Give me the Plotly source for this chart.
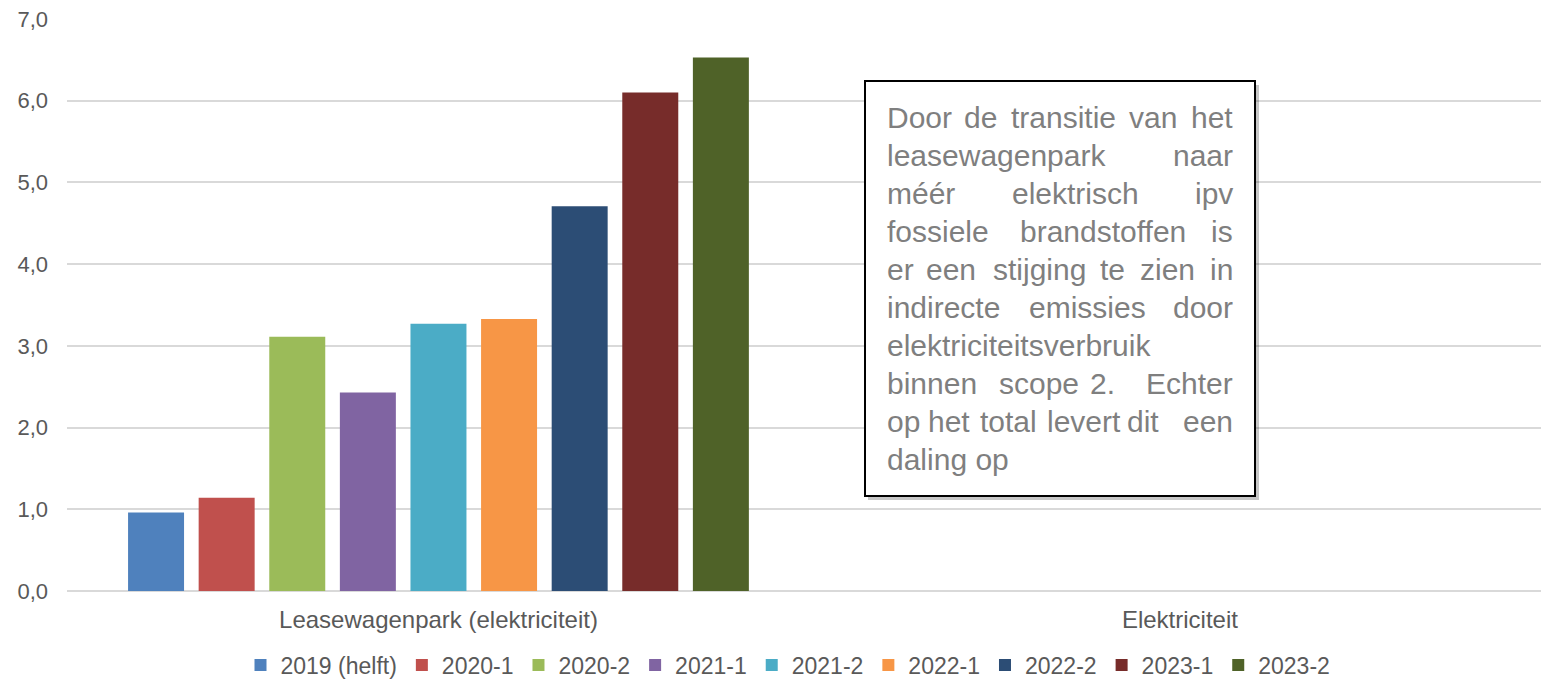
import plotly.graph_objects as go

categories = ["Leasewagenpark (elektriciteit)", "Elektriciteit"]
series_names = ["2019 (helft)", "2020-1", "2020-2", "2021-1", "2021-2",
                "2022-1", "2022-2", "2023-1", "2023-2"]
series_values = [
    [0.96, None],
    [1.14, None],
    [3.11, None],
    [2.43, None],
    [3.27, None],
    [3.33, None],
    [4.71, None],
    [6.10, None],
    [6.53, None],
]
colors = ["#4F81BD", "#C0504D", "#9BBB59", "#8064A2", "#4BACC6",
          "#F79646", "#2C4D75", "#772C2A", "#4F6228"]

W, H = 1541, 681
L, R, T, B = 67, 0, 19, 90
PW, PH = W - L - R, H - T - B


def px(x):
    return (x - L) / PW


def py(y):
    return (H - B - y) / PH


fig = go.Figure()
for name, vals, col in zip(series_names, series_values, colors):
    fig.add_trace(go.Bar(x=categories, y=vals, name=name, marker_color=col,
                         marker_line_width=0))

font_family = "Arial, Liberation Sans, sans-serif"

box_lines = [
    ["Door", "de", "transitie", "van", "het"],
    ["leasewagenpark", "naar"],
    ["méér", "elektrisch", "ipv"],
    ["fossiele", "brandstoffen", "is"],
    ["er", "een", "stijging", "te", "zien", "in"],
    ["indirecte", "emissies", "door"],
    ["elektriciteitsverbruik"],
    ["binnen", "scope", "2.", "Echter"],
    ["op", "het", "total", "levert", "dit", "een"],
    ["daling op"],
]
mid_pos = [
    [980, 1063.7, 1153],
    [],
    [1075.7],
    [1102.5],
    [950.7, 1039, 1112.3, 1167.3],
    [1087.8],
    [],
    [1038.7, 1102.3],
    [949, 1008.3, 1084.3, 1143],
    [],
]

annotations = []
tx_left, tx_right = 885, 1235
y0_line, dy_line = 117.0, 38.1
tfont = dict(family=font_family, size=30, color="#7F7F7F")
for i, (words, mids) in enumerate(zip(box_lines, mid_pos)):
    yy = py(y0_line + i * dy_line)
    annotations.append(dict(x=px(tx_left), y=yy, xref="paper", yref="paper",
                            text=words[0], showarrow=False, xanchor="left",
                            yanchor="middle", font=tfont))
    if len(words) == 1:
        continue
    annotations.append(dict(x=px(tx_right), y=yy, xref="paper", yref="paper",
                            text=words[-1], showarrow=False, xanchor="right",
                            yanchor="middle", font=tfont))
    for w, m in zip(words[1:-1], mids):
        annotations.append(dict(x=px(m), y=yy, xref="paper", yref="paper",
                                text=w, showarrow=False, xanchor="center",
                                yanchor="middle", font=tfont))

shapes = [
    dict(type="rect", xref="paper", yref="paper",
         x0=px(868), x1=px(1259), y0=py(500), y1=py(85),
         fillcolor="rgba(0,0,0,0.22)", line_width=0, layer="above"),
    dict(type="rect", xref="paper", yref="paper",
         x0=px(865), x1=px(1255), y0=py(496), y1=py(81),
         fillcolor="white", line=dict(color="black", width=2), layer="above"),
]

fig.update_layout(
    width=W, height=H,
    margin=dict(l=L, r=R, t=T, b=B, pad=0, autoexpand=False),
    paper_bgcolor="white", plot_bgcolor="white",
    separators=",.",
    barmode="group", bargap=0.143, bargroupgap=0.207,
    font=dict(family=font_family, size=22, color="#595959"),
    showlegend=True,
    legend=dict(orientation="h", x=px(788), xanchor="center",
                yref="container", y=(H - 665) / H, yanchor="middle",
                font=dict(size=23, color="#595959"), itemwidth=30,
                traceorder="normal"),
    xaxis=dict(type="category", categoryorder="array", categoryarray=categories,
               range=[-0.501, 1.487], showgrid=False, zeroline=False,
               showline=False, ticks="", tickfont=dict(size=24, color="#595959"),
               ticklabelstandoff=12, automargin=False),
    yaxis=dict(range=[0, 7], dtick=1, tickformat=".1f", showgrid=True,
               gridcolor="#D9D9D9", gridwidth=1.5, zeroline=True,
               zerolinecolor="#D9D9D9", zerolinewidth=1.5, showline=False,
               ticks="", tickfont=dict(size=22, color="#595959"),
               ticklabelstandoff=18, automargin=False),
    annotations=annotations,
    shapes=shapes,
)

fig.write_html("out.html", config={"displayModeBar": False},
               post_script="document.body.style.margin='0';")
